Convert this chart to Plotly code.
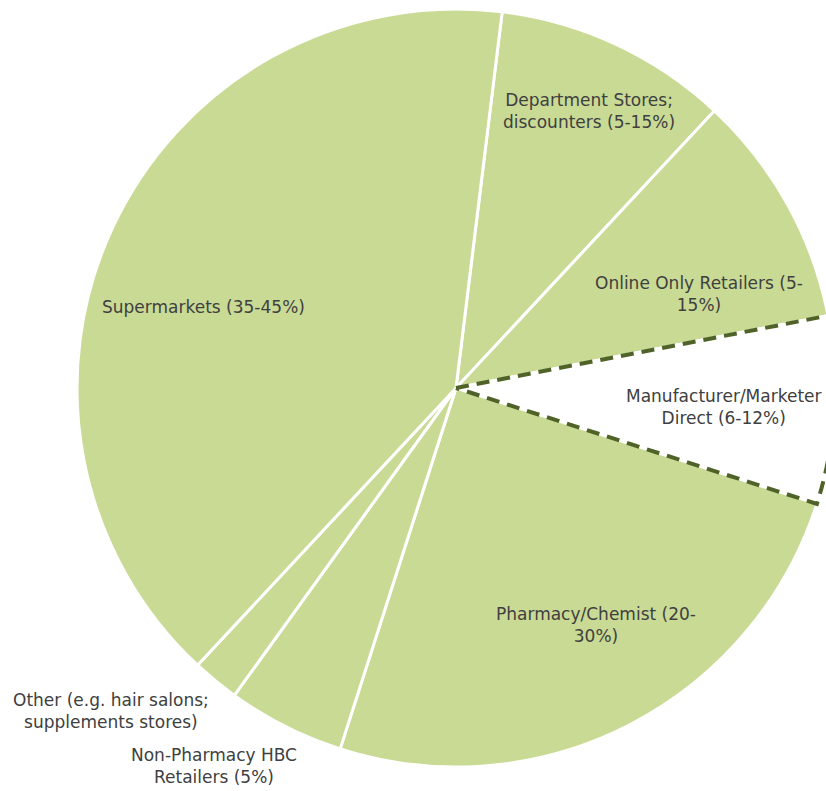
import numpy as np
import plotly.graph_objects as go

# ---- data ----
categories = [
    "Department Stores; discounters",
    "Online Only Retailers",
    "Manufacturer/Marketer Direct",
    "Pharmacy/Chemist",
    "Non-Pharmacy HBC Retailers",
    "Other (e.g. hair salons; supplements stores)",
    "Supermarkets",
]
shares = [10, 10, 8, 25, 5, 2, 40]
label_text = [
    "Department Stores;<br>discounters (5-15%)",
    "Online Only Retailers (5-<br>15%)",
    "Manufacturer/Marketer<br>Direct (6-12%)",
    "Pharmacy/Chemist (20-<br>30%)",
    "Non-Pharmacy HBC<br>Retailers (5%)",
    "Other (e.g. hair salons;<br>supplements stores)",
    "Supermarkets (35-45%)",
]
highlight = "Manufacturer/Marketer Direct"

# ---- layout / style ----
W, H = 846, 791
CX, CY, R = 456, 388, 379          # pie centre and radius in pixels
ROTATION = 7
GREEN = "#C9DA95"
OLIVE = "#4F6228"
TEXT = "#404040"
FONT = "DejaVu Sans"
label_pos = [(589, 111), (699, 294), (724, 407), (596, 625),
             (214, 766), (111, 711), (203, 307)]

colors = ["white" if c == highlight else GREEN for c in categories]

fig = go.Figure()
fig.add_trace(go.Pie(
    labels=categories, values=shares, sort=False, direction="clockwise",
    rotation=ROTATION, textinfo="none", hoverinfo="label+percent",
    marker=dict(colors=colors, line=dict(color="white", width=3)),
    domain=dict(x=[(CX - R) / W, (CX + R) / W],
                y=[1 - (CY + R) / H, 1 - (CY - R) / H]),
    showlegend=False,
))

# dashed outline of the highlighted slice, derived from the data
total = float(sum(shares))
cum = np.concatenate([[0], np.cumsum(shares)]) / total * 360 + ROTATION
i = categories.index(highlight)
a0, a1 = np.radians(cum[i]), np.radians(cum[i + 1])
arc = np.linspace(a0, a1, 80)
xs = np.concatenate([[CX], CX + R * np.sin(arc), [CX]])
ys = np.concatenate([[CY], CY - R * np.cos(arc), [CY]])
path = "M " + " L ".join(f"{x:.2f},{y:.2f}" for x, y in zip(xs, ys))
fig.add_shape(
    type="path", path=path, xref="x", yref="y", layer="above",
    line=dict(color=OLIVE, width=4, dash="13px,8px"),
    fillcolor="rgba(0,0,0,0)",
)

for txt, (px, py) in zip(label_text, label_pos):
    fig.add_annotation(
        x=px / W, y=1 - py / H, xref="paper", yref="paper",
        text=txt, showarrow=False, align="center",
        xanchor="center", yanchor="middle",
        font=dict(family=FONT, size=17, color=TEXT),
    )

fig.update_layout(
    width=W, height=H, margin=dict(l=0, r=0, t=0, b=0),
    paper_bgcolor="white", plot_bgcolor="rgba(0,0,0,0)",
    xaxis=dict(range=[0, W], visible=False, fixedrange=True),
    yaxis=dict(range=[H, 0], visible=False, fixedrange=True),
)

fig.write_html(
    "out.html",
    config={"displayModeBar": False},
    post_script="document.body.style.margin='0';"
                "document.body.style.overflow='hidden';"
                "document.documentElement.style.overflow='hidden';",
)
